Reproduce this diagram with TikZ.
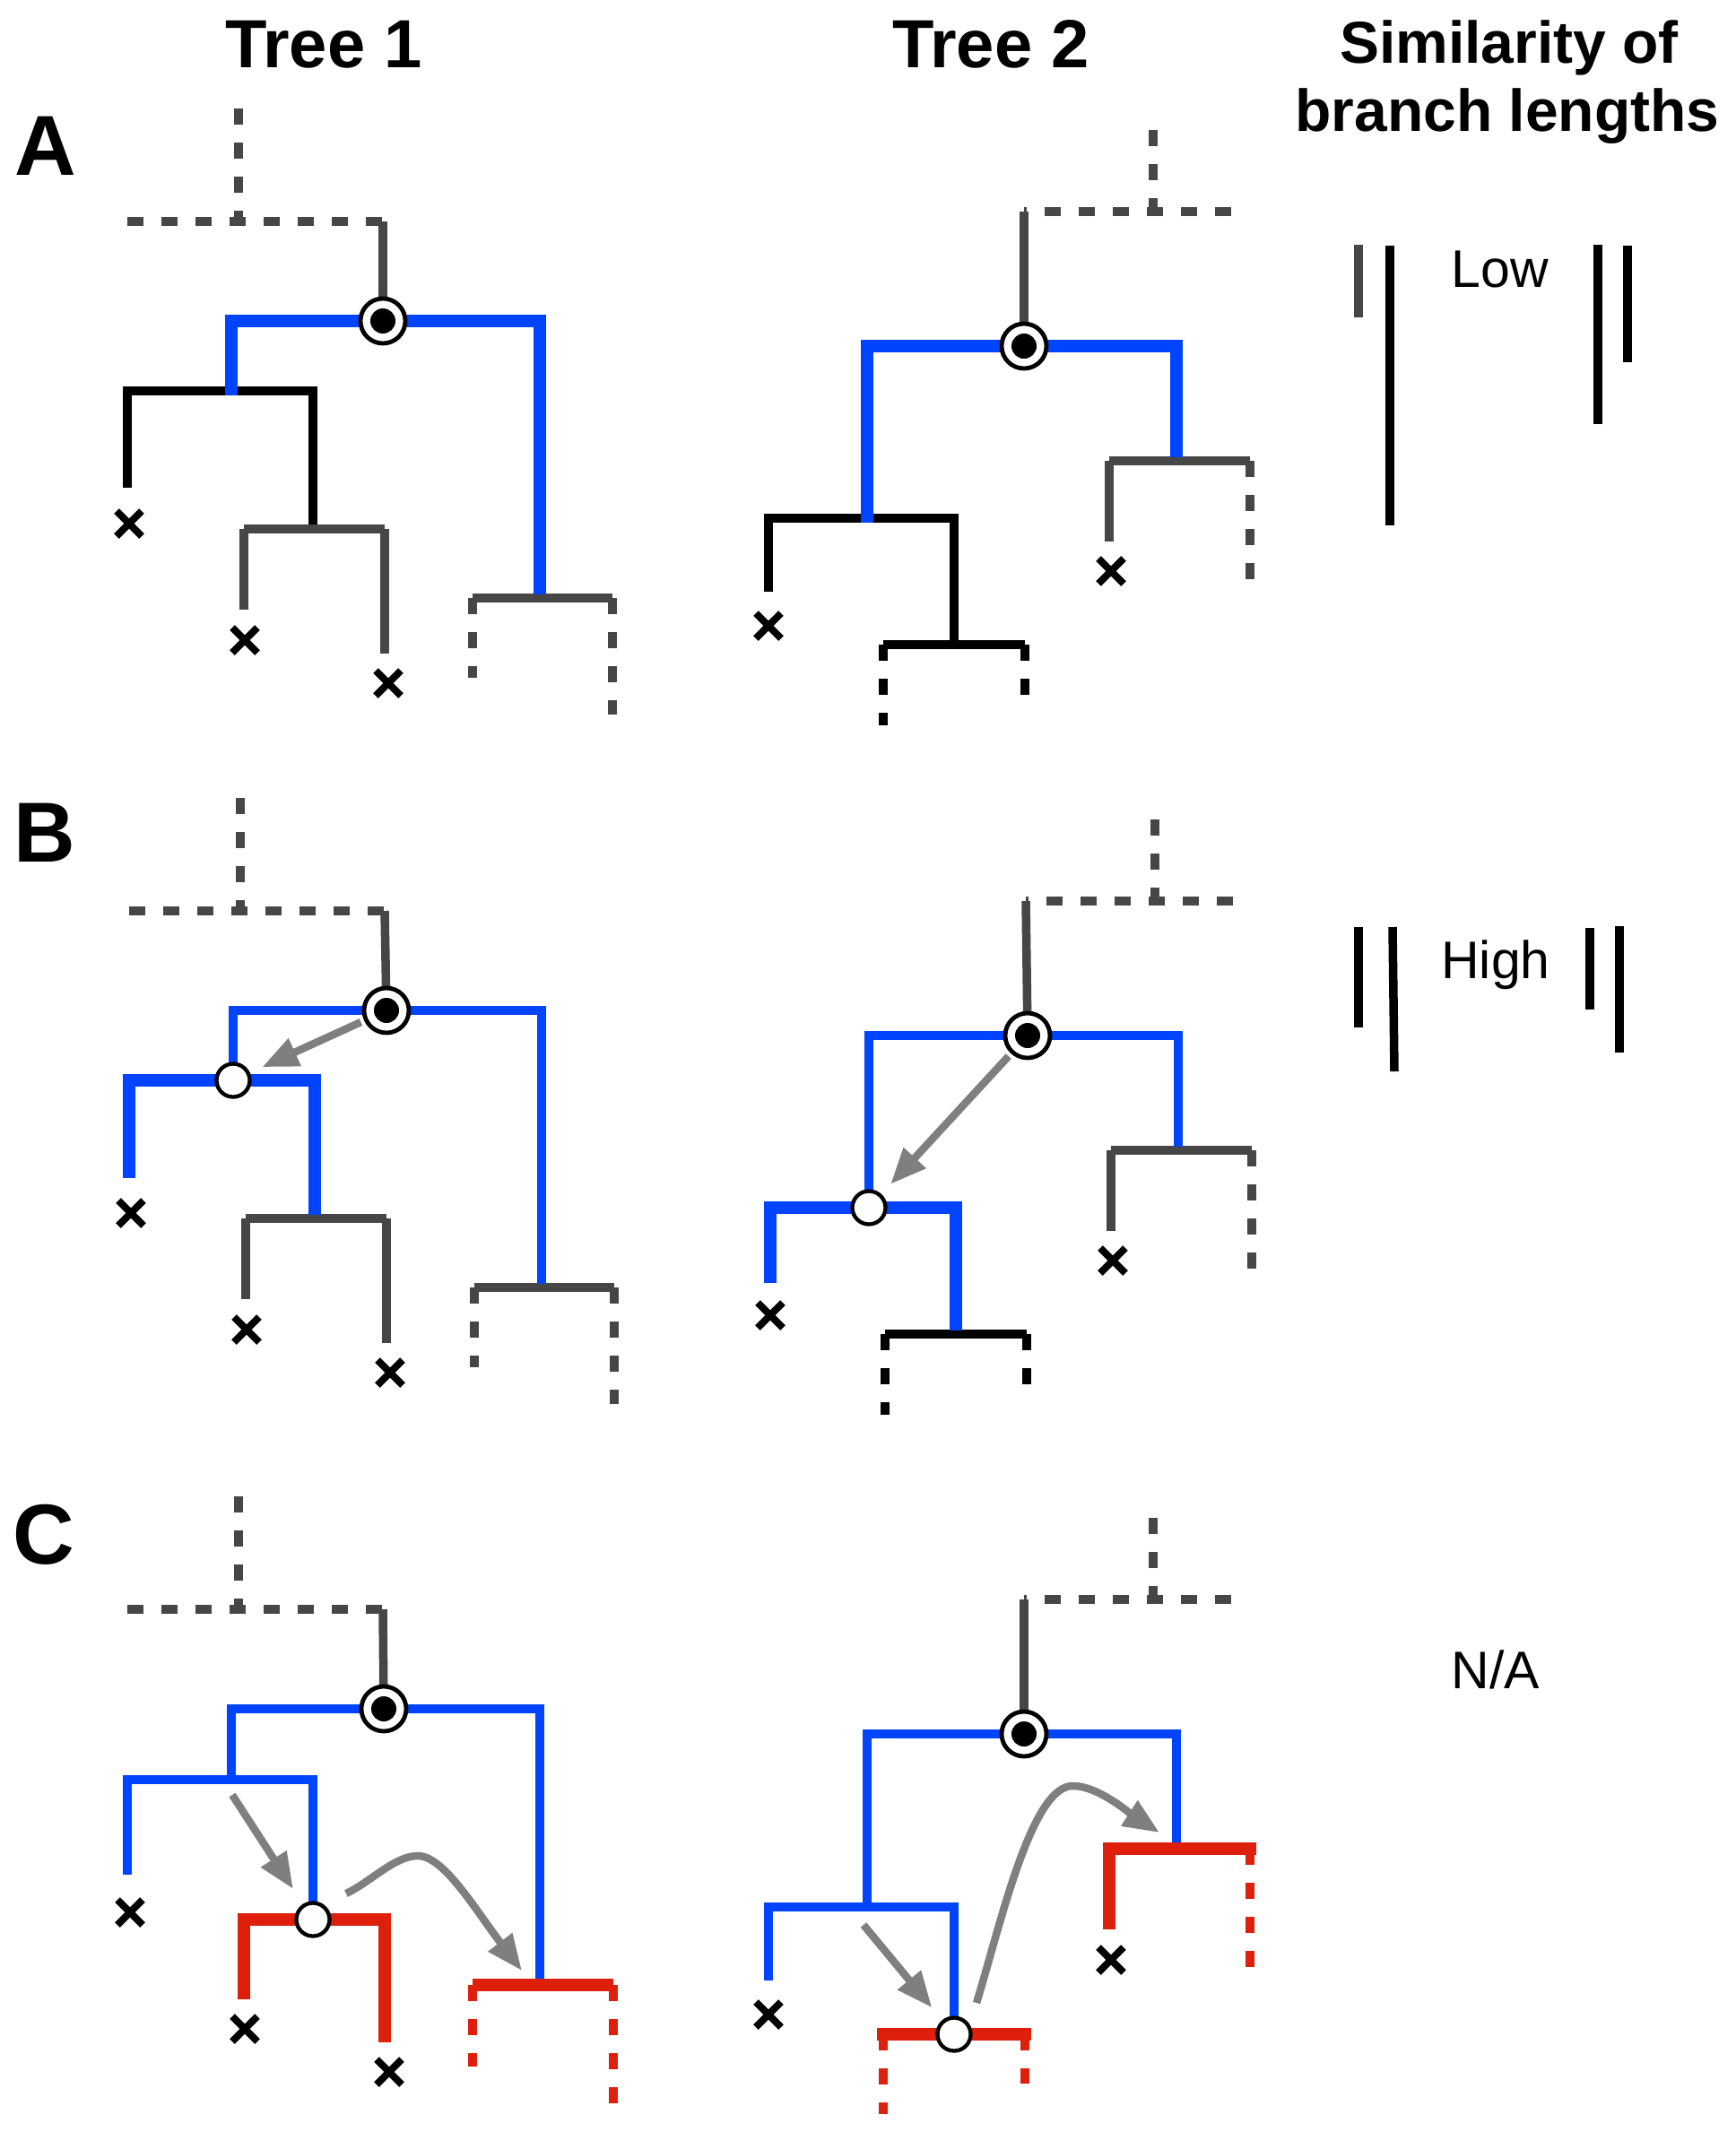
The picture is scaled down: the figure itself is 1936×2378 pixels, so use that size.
\documentclass[tikz,border=0pt]{standalone}
\usepackage{fontspec}
\setmainfont{Liberation Sans}
\usetikzlibrary{arrows.meta}
\definecolor{lgray}{RGB}{70,70,70}
\definecolor{tblue}{RGB}{0,68,255}
\definecolor{tred}{RGB}{221,31,12}
\definecolor{agray}{RGB}{127,127,127}
\tikzset{
  gl/.style={draw=lgray, line width=9.5pt},
  kl/.style={draw=black, line width=9.5pt},
  bn/.style={draw=tblue, line width=9.5pt},
  bk/.style={draw=tblue, line width=14.5pt},
  rk/.style={draw=tred, line width=14.5pt},
  rn/.style={draw=tred, line width=9.5pt},
  dsh/.style={dash pattern=on 18pt off 20pt},
  mv/.style={draw=agray, line width=8.5pt, -{Triangle[length=40pt,width=32pt]}},
  dotnode/.style={circle, draw=black, fill=white, line width=4.8pt, minimum size=50pt, inner sep=0pt,
    path picture={\fill[black] (path picture bounding box.center) circle (14pt);}},
  opennode/.style={circle, draw=black, fill=white, line width=4.3pt, minimum size=37pt, inner sep=0pt},
  xmark/.pic={\draw[black, line width=8pt] (-14,-14) -- (14,14) (-14,14) -- (14,-14);},
  kbar/.style={draw=black, line width=9.5pt},
  gbar/.style={draw=lgray, line width=9.5pt},
  ttl/.style={font=\fontsize{76}{90}\selectfont\bfseries, inner sep=0pt, anchor=base},
  subttl/.style={font=\fontsize{66}{80}\selectfont\bfseries, inner sep=0pt, anchor=base},
  plab/.style={font=\fontsize{95}{110}\selectfont\bfseries, inner sep=0pt, anchor=base west},
  simlab/.style={font=\fontsize{59}{70}\selectfont, inner sep=0pt, anchor=base},
}
\begin{document}
\begin{tikzpicture}[x=1pt,y=-1pt]
\fill[white] (0,0) rectangle (1936,2378);
\useasboundingbox (0,0) rectangle (1936,2378);

% ---------- titles ----------
\node[ttl] (t1) at (361,75) {Tree 1};
\node[ttl] (t2) at (1105,75) {Tree 2};
\node[subttl] (s1) at (1683,70) {Similarity of};
\node[subttl] (s2) at (1681,146) {branch lengths};
\node[plab] (pA) at (16,195) {A};
\node[plab] (pB) at (15,961) {B};
\node[plab] (pC) at (14,1744) {C};
\node[simlab] (low) at (1673,320) {Low};
\node[simlab] (high) at (1668,1091) {High};
\node[simlab] (na) at (1668,1883) {N/A};

% ---------- similarity bars ----------
\draw[gbar] (1515,273) -- (1515,354);
\draw[kbar] (1550,274) -- (1550,586);
\draw[kbar] (1782,273) -- (1782,473);
\draw[kbar] (1815,274) -- (1815,404);
\draw[kbar] (1515,1034) -- (1515,1146);
\draw[kbar] (1553,1034) -- (1555,1195);
\draw[kbar] (1773,1035) -- (1773,1126);
\draw[kbar] (1806,1033) -- (1806,1174);

% ================= Panel A =================
% Tree 1
\draw[gl,dsh] (266,121) -- (266,247);
\draw[gl,dsh] (142,247) -- (427,247);
\draw[gl] (427,247) -- (427,358);
\draw[kl] (142,544) -- (142,436) -- (349,436) -- (349,586);
\draw[gl] (272,590) -- (429,590);
\draw[gl] (272,590) -- (272,680);
\draw[gl] (429,590) -- (429,729);
\draw[gl] (527,667) -- (683,667);
\draw[gl,dsh] (527,667) -- (527,756);
\draw[gl,dsh] (683,667) -- (683,797);
\draw[bk] (258,441) -- (258,358) -- (602,358) -- (602,663);
\node[dotnode] (a1r) at (427,358) {};
\pic (a1xa) at (144,584) {xmark};
\pic (a1xb) at (273,714) {xmark};
\pic (a1xc) at (433,762) {xmark};
% Tree 2
\draw[gl,dsh] (1286,145) -- (1286,236);
\draw[gl,dsh] (1373,236) -- (1142,236);
\draw[gl] (1142,236) -- (1142,386);
\draw[kl] (857,660) -- (857,578) -- (1064,578) -- (1064,715);
\draw[kl] (985,719) -- (1143,719);
\draw[kl,dsh] (985,719) -- (985,809);
\draw[kl,dsh] (1143,719) -- (1143,776);
\draw[gl] (1237,514) -- (1394,514);
\draw[gl] (1237,514) -- (1237,604);
\draw[gl,dsh] (1394,514) -- (1394,646);
\draw[bk] (967,583) -- (967,386) -- (1312,386) -- (1312,510);
\node[dotnode] (a2r) at (1142,386) {};
\pic (a2xa) at (857,698) {xmark};
\pic (a2xd) at (1239,637) {xmark};

% ================= Panel B =================
\begin{scope}[shift={(2,769)}]
% Tree 1
\draw[gl,dsh] (266,121) -- (266,247);
\draw[gl,dsh] (142,247) -- (427,247);
\draw[gl] (427,247) -- (429,358);
\draw[gl] (272,590) -- (429,590);
\draw[gl] (272,590) -- (272,680);
\draw[gl] (429,590) -- (429,729);
\draw[gl] (527,667) -- (683,667);
\draw[gl,dsh] (527,667) -- (527,756);
\draw[gl,dsh] (683,667) -- (683,797);
\draw[bn] (258,436) -- (258,358) -- (602,358) -- (602,663);
\draw[bk] (142,545) -- (142,436) -- (349,436) -- (349,586);
\node[dotnode] (b1r) at (429,358) {};
\node[opennode] (b1n) at (258,436) {};
\draw[mv, shorten <=4pt, shorten >=15pt] (b1r) -- (b1n);
\pic (b1xa) at (144,584) {xmark};
\pic (b1xb) at (273,714) {xmark};
\pic (b1xc) at (433,762) {xmark};
% Tree 2
\draw[gl,dsh] (1286,145) -- (1286,236);
\draw[gl,dsh] (1373,236) -- (1142,236);
\draw[gl] (1142,236) -- (1144,386);
\draw[kl] (985,719) -- (1143,719);
\draw[kl,dsh] (985,719) -- (985,809);
\draw[kl,dsh] (1143,719) -- (1143,776);
\draw[gl] (1237,514) -- (1394,514);
\draw[gl] (1237,514) -- (1237,604);
\draw[gl,dsh] (1394,514) -- (1394,646);
\draw[bn] (967,578) -- (967,386) -- (1312,386) -- (1312,510);
\draw[bk] (857,662) -- (857,578) -- (1064,578) -- (1064,715);
\node[dotnode] (b2r) at (1144,386) {};
\node[opennode] (b2n) at (967,578) {};
\draw[mv, shorten <=4pt, shorten >=15pt] (b2r) -- (b2n);
\pic (b2xa) at (857,698) {xmark};
\pic (b2xd) at (1239,637) {xmark};
\end{scope}

% ================= Panel C =================
\begin{scope}[shift={(0,1548)}]
% Tree 1
\draw[gl,dsh] (266,121) -- (266,247);
\draw[gl,dsh] (142,247) -- (427,247);
\draw[gl] (427,247) -- (428,358);
\draw[bn] (258,441) -- (258,358) -- (602,358) -- (602,659);
\draw[bn] (142,543) -- (142,437) -- (349,437) -- (349,593);
\draw[rk] (272,682) -- (272,593) -- (429,593) -- (429,730);
\draw[rk] (527,666) -- (684,666);
\draw[rn,dsh] (527,666) -- (527,757);
\draw[rn,dsh] (684,666) -- (684,799);
\node[dotnode] (c1r) at (428,358) {};
\node[opennode] (c1n) at (349,593) {};
\coordinate (c1s) at (259,454);
\draw[mv, shorten >=20pt] (c1s) -- (c1n);
\coordinate (c1a) at (386,564);
\coordinate (c1b) at (582,650);
\draw[mv] (c1a) .. controls (415,550) and (440,522) .. (466,522)
                .. controls (495,522) and (530,582) .. (c1b);
\pic (c1xa) at (145,585) {xmark};
\pic (c1xb) at (273,715) {xmark};
\pic (c1xc) at (434,763) {xmark};
% Tree 2
\draw[gl,dsh] (1286,145) -- (1286,236);
\draw[gl,dsh] (1373,236) -- (1142,236);
\draw[gl] (1142,236) -- (1142,386);
\draw[bn] (967,583) -- (967,386) -- (1312,386) -- (1312,507);
\draw[bn] (857,661) -- (857,579) -- (1064,579) -- (1064,721);
\draw[rk] (978,721) -- (1150,721);
\draw[rn,dsh] (985,721) -- (985,810);
\draw[rn,dsh] (1143,721) -- (1143,776);
\draw[rk] (1237,604) -- (1237,514) -- (1401,514);
\draw[rn,dsh] (1394,514) -- (1394,647);
\node[dotnode] (c2r) at (1142,386) {};
\node[opennode] (c2n) at (1064,721) {};
\coordinate (c2s) at (963,599);
\draw[mv, shorten >=18pt] (c2s) -- (c2n);
\coordinate (c2a) at (1089,686);
\coordinate (c2b) at (1293,496);
\draw[mv] (c2a) .. controls (1115,602) and (1150,442) .. (1197,444)
                .. controls (1225,444) and (1262,476) .. (c2b);
\pic (c2xa) at (857,699) {xmark};
\pic (c2xd) at (1239,638) {xmark};
\end{scope}
\end{tikzpicture}
\end{document}
